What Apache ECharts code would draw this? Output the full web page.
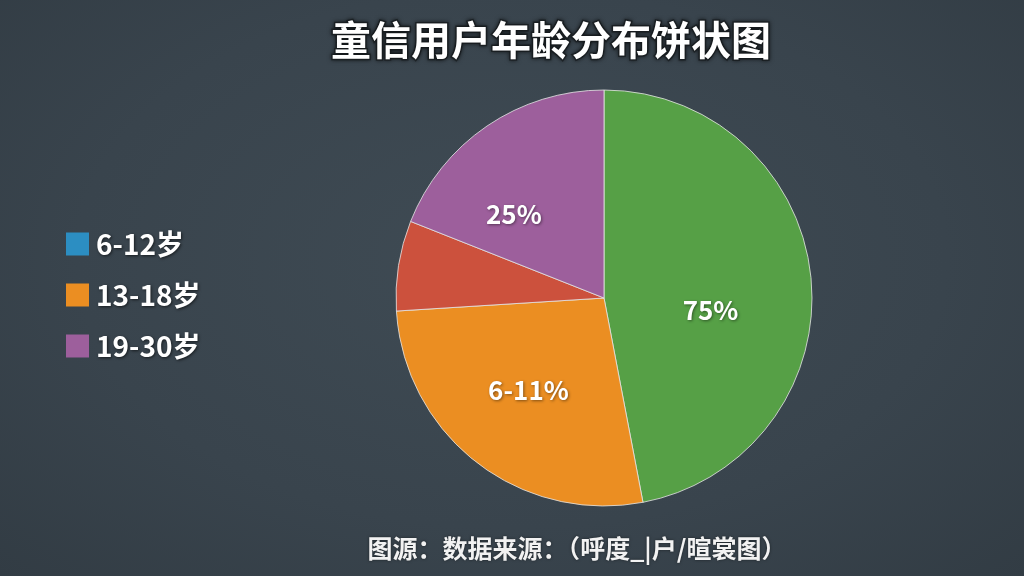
<!DOCTYPE html>
<html>
<head>
<meta charset="utf-8">
<style>
html,body{margin:0;padding:0;width:1024px;height:576px;overflow:hidden;
background:radial-gradient(ellipse at 50% 45%, #3f4b54 0%, #39444d 60%, #323c44 100%);}
#chart{width:1024px;height:576px;}
</style>
<script src="https://cdn.jsdelivr.net/npm/echarts@6/dist/echarts.min.js"></script>
</head>
<body>
<div id="chart"></div>
<script>
// Data
const titleText = '童信用户年龄分布饼状图';
const sourceText = '图源：数据来源：（呼度_|户/暄裳图）';
const sliceNames = ['6-12岁', '13-18岁', '其他', '19-30岁'];
const sliceValues = [47, 27, 7, 19];
const sliceLabels = ['75%', '6-11%', '', '25%'];
const sliceColors = ['#56a046', '#eb8e22', '#cc513d', '#9d5f9c'];
const legendNames = ['6-12岁', '13-18岁', '19-30岁'];
const legendColors = ['#2c8ec2', '#eb8e22', '#9d5f9c'];

const chart = echarts.init(document.getElementById('chart'), null, {renderer: 'canvas'});
const FONT = '"Noto Sans CJK SC", "Noto Sans", sans-serif';
// small nudges of the inside labels (text placement only)
const labelNudge = [[0, 22], [-10, 8], [0, 0], [-30, 5]];

chart.setOption({
  backgroundColor: 'transparent',
  animation: false,
  title: [{
    text: titleText,
    left: 546, top: 15, textAlign: 'center',
    textStyle: {
      color: '#ffffff', fontSize: 40, fontWeight: 'bold', fontFamily: FONT,
      textBorderColor: '#1e2428', textBorderWidth: 3,
      textShadowColor: 'rgba(0,0,0,0.5)', textShadowBlur: 4
    }
  }, {
    text: sourceText,
    left: 572, top: 531, textAlign: 'center',
    textStyle: {
      color: '#f2f2f2', fontSize: 25, fontWeight: 'bold', fontFamily: FONT,
      textShadowColor: 'rgba(0,0,0,0.5)', textShadowBlur: 3
    }
  }],
  legend: {
    orient: 'vertical',
    left: 61, top: 225,
    itemWidth: 23, itemHeight: 23, itemGap: 23,
    icon: 'rect',
    data: legendNames.map((n, i) => ({name: n, itemStyle: {color: legendColors[i], borderWidth: 0}})),
    textStyle: {
      color: '#ffffff', fontSize: 28, fontWeight: 'bold', fontFamily: FONT,
      padding: [0, 0, 0, 2],
      textShadowColor: 'rgba(0,0,0,0.6)', textShadowBlur: 3, textShadowOffsetX: 1, textShadowOffsetY: 1
    },
    selectedMode: false
  },
  series: [{
    type: 'pie',
    center: [604, 298],
    radius: [0, 208],
    startAngle: 90,
    clockwise: true,
    silent: true,
    itemStyle: {borderColor: 'rgba(230,230,230,0.8)', borderWidth: 1},
    label: {
      show: true,
      position: 'inside',
      formatter: p => sliceLabels[p.dataIndex],
      color: '#ffffff', fontSize: 26, fontWeight: 'bold', fontFamily: FONT,
      textShadowColor: 'rgba(0,0,0,0.45)', textShadowBlur: 3, textShadowOffsetX: 1, textShadowOffsetY: 1
    },
    labelLayout: p => ({dx: labelNudge[p.dataIndex][0], dy: labelNudge[p.dataIndex][1]}),
    labelLine: {show: false},
    data: sliceNames.map((n, i) => ({name: n, value: sliceValues[i], itemStyle: {color: sliceColors[i]}}))
  }]
});
</script>
</body>
</html>
